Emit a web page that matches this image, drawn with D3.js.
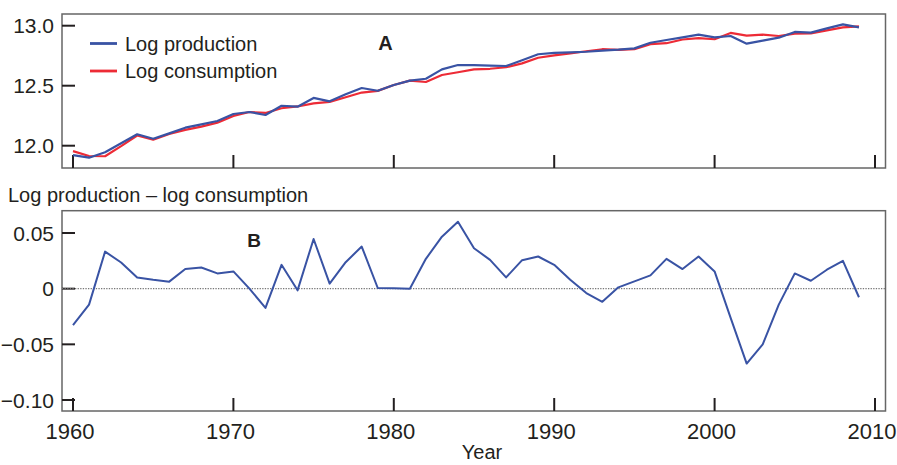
<!DOCTYPE html>
<html>
<head>
<meta charset="utf-8">
<script src="https://cdn.jsdelivr.net/npm/d3@7"></script>
<style>
  body { margin: 0; background: #fff; }
  svg { display: block; font-family: "Liberation Sans", Arial, sans-serif; }
  .frame { fill: none; stroke: #666; stroke-width: 1.5; }
  .tick-mark { stroke: #231f20; stroke-width: 2; }
  .tick-label { fill: #231f20; }
</style>
</head>
<body>
<svg id="container" width="897" height="465"></svg>
<script>
const years = d3.range(1960, 2010);

const production = [
  11.922, 11.900, 11.945, 12.020, 12.095, 12.058, 12.103, 12.150, 12.178, 12.206,
  12.264, 12.281, 12.256, 12.333, 12.325, 12.398, 12.370, 12.428, 12.481, 12.458,
  12.506, 12.542, 12.558, 12.636, 12.672, 12.672, 12.667, 12.664, 12.712, 12.762,
  12.773, 12.778, 12.783, 12.792, 12.800, 12.811, 12.858, 12.881, 12.903, 12.925,
  12.903, 12.914, 12.850, 12.875, 12.900, 12.948, 12.942, 12.978, 13.011, 12.986
];

const consumption = [
  11.955, 11.914, 11.912, 11.996, 12.085, 12.050, 12.097, 12.132, 12.159, 12.192,
  12.248, 12.281, 12.273, 12.312, 12.327, 12.353, 12.365, 12.404, 12.443, 12.457,
  12.506, 12.542, 12.531, 12.589, 12.612, 12.636, 12.641, 12.654, 12.686, 12.733,
  12.752, 12.770, 12.787, 12.804, 12.799, 12.804, 12.846, 12.854, 12.885, 12.896,
  12.887, 12.940, 12.917, 12.925, 12.914, 12.934, 12.935, 12.961, 12.986, 12.994
];

const difference = [
  -0.0327, -0.0143, 0.0333, 0.0235, 0.0101, 0.0080, 0.0063, 0.0176, 0.0190, 0.0137,
  0.0155, 0.0000, -0.0173, 0.0214, -0.0015, 0.0446, 0.0045, 0.0238, 0.0378, 0.0006,
  0.0003, 0.0000, 0.0268, 0.0467, 0.0601, 0.0363, 0.0259, 0.0101, 0.0256, 0.0289,
  0.0214, 0.0080, -0.0039, -0.0118, 0.0012, 0.0065, 0.0119, 0.0268, 0.0176, 0.0289,
  0.0155, -0.0262, -0.0673, -0.0500, -0.0143, 0.0137, 0.0071, 0.0170, 0.0250, -0.0077
];

const xTicks = [1960, 1970, 1980, 1990, 2000, 2010];
const topTicks = [12.0, 12.5, 13.0];
const bottomTicks = [0.05, 0, -0.05, -0.10];

const BLUE = "#3953a4";
const RED = "#ed2b36";

var svg = d3.select("#container");

const frameLeft = 62, frameRight = 885.5;

var x = d3.scaleLinear().domain([1960, 2010]).range([73, 875]);
var yTop = d3.scaleLinear().domain([12, 13]).range([145.7, 25.7]);
var yBot = d3.scaleLinear().domain([-0.10, 0.05]).range([400, 233]);

// panel frames
const panels = [
  { top: 14, bottom: 168 },
  { top: 210.7, bottom: 411 }
];

function drawFrame(p, y, ticks, fmt) {
  svg.append("rect")
    .attr("class", "frame")
    .attr("x", frameLeft)
    .attr("y", p.top)
    .attr("width", frameRight - frameLeft)
    .attr("height", p.bottom - p.top);

  // x ticks pointing inward
  svg.append("g").selectAll("line")
    .data(xTicks)
    .enter().append("line")
    .attr("class", "tick-mark")
    .attr("x1", d => x(d)).attr("x2", d => x(d))
    .attr("y1", p.bottom).attr("y2", p.bottom - 13);

  // y ticks pointing inward
  svg.append("g").selectAll("line")
    .data(ticks)
    .enter().append("line")
    .attr("class", "tick-mark")
    .attr("x1", frameLeft).attr("x2", frameLeft + 13)
    .attr("y1", d => y(d)).attr("y2", d => y(d));

  svg.append("g").selectAll("text")
    .data(ticks)
    .enter().append("text")
    .attr("class", "tick-label")
    .attr("x", 54)
    .attr("y", d => y(d))
    .attr("dy", "0.36em")
    .attr("text-anchor", "end")
    .style("font-size", "21px")
    .text(fmt);
}

drawFrame(panels[0], yTop, topTicks, d3.format(".1f"));
drawFrame(panels[1], yBot, bottomTicks, d => d === 0 ? "0" : d3.format(".2f")(d).replace("-", "\u2212"));

// zero reference line
svg.append("line")
  .attr("x1", frameLeft).attr("x2", frameRight)
  .attr("y1", yBot(0)).attr("y2", yBot(0))
  .attr("stroke", "#777")
  .attr("stroke-width", 1.3)
  .attr("stroke-dasharray", "1.3,1.3");

const lineTop = d3.line()
  .x((d, i) => x(years[i]))
  .y(d => yTop(d));

const lineBot = d3.line()
  .x((d, i) => x(years[i]))
  .y(d => yBot(d));

svg.append("path")
  .datum(consumption)
  .attr("d", lineTop)
  .attr("fill", "none")
  .attr("stroke", RED)
  .attr("stroke-width", 2.2)
  .attr("stroke-linejoin", "round");

svg.append("path")
  .datum(production)
  .attr("d", lineTop)
  .attr("fill", "none")
  .attr("stroke", BLUE)
  .attr("stroke-width", 2.2)
  .attr("stroke-linejoin", "round");

svg.append("path")
  .datum(difference)
  .attr("d", lineBot)
  .attr("fill", "none")
  .attr("stroke", BLUE)
  .attr("stroke-width", 2)
  .attr("stroke-linejoin", "round");

// legend
const legend = [
  { label: "Log production", color: BLUE, y: 43.5 },
  { label: "Log consumption", color: RED, y: 71 }
];

legend.forEach(l => {
  svg.append("line")
    .attr("x1", 90).attr("x2", 117)
    .attr("y1", l.y).attr("y2", l.y)
    .attr("stroke", l.color)
    .attr("stroke-width", 2.8);
  svg.append("text")
    .attr("x", 125)
    .attr("y", l.y)
    .attr("dy", "0.36em")
    .attr("fill", "#231f20")
    .style("font-size", "20px")
    .text(l.label);
});

// panel letters
svg.append("text")
  .attr("x", 385.5).attr("y", 50)
  .attr("text-anchor", "middle")
  .attr("fill", "#231f20")
  .style("font-size", "20px").style("font-weight", "bold")
  .text("A");

svg.append("text")
  .attr("x", 254).attr("y", 247)
  .attr("text-anchor", "middle")
  .attr("fill", "#231f20")
  .style("font-size", "19px").style("font-weight", "bold")
  .text("B");

// bottom panel caption
svg.append("text")
  .attr("x", 8).attr("y", 201.5)
  .attr("fill", "#231f20")
  .style("font-size", "20px")
  .text("Log production \u2013 log consumption");

// x tick labels
svg.append("g").selectAll("text")
  .data(xTicks)
  .enter().append("text")
  .attr("class", "tick-label")
  .attr("x", d => x(d) - 3)
  .attr("y", 439)
  .attr("text-anchor", "middle")
  .style("font-size", "22px")
  .text(d => d);

svg.append("text")
  .attr("x", 482).attr("y", 459)
  .attr("text-anchor", "middle")
  .attr("fill", "#231f20")
  .style("font-size", "20px")
  .text("Year");
</script>
</body>
</html>
